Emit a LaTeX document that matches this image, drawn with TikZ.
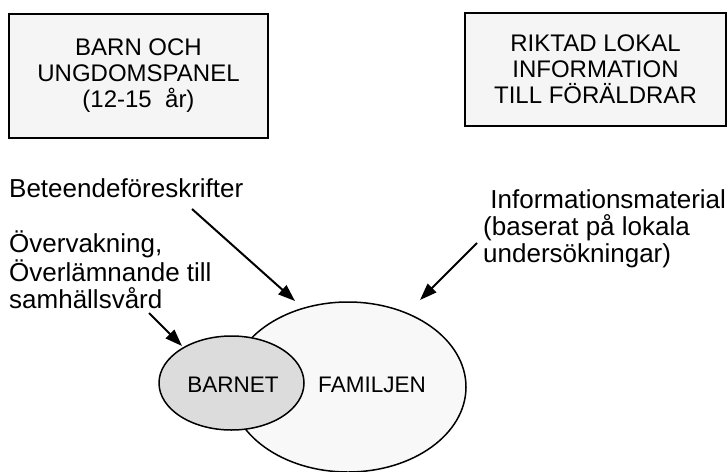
\documentclass[tikz,border=0pt]{standalone}
\usepackage{fontspec}
\setmainfont{Liberation Sans}
\usetikzlibrary{arrows.meta}
\definecolor{boxgray}{HTML}{F5F5F5}
\definecolor{famfill}{HTML}{F8F8F8}
\definecolor{barnfill}{HTML}{DCDCDC}
\begin{document}
\begin{tikzpicture}[x=1pt,y=-1pt,
  box/.style={draw=black, line width=2pt, fill=boxgray, align=center,
    inner sep=0pt, font=\fontsize{24}{26}\selectfont},
  lbl/.style={align=left, anchor=base west, inner sep=0pt,
    font=\fontsize{26}{27}\selectfont},
  arr/.style={line width=2pt, -{Triangle[length=17pt,width=12pt]}}]
\useasboundingbox (0,0) rectangle (727,471);
% boxes
\node[box, minimum width=259pt, minimum height=124pt] (panel) at (138.5,76)
  {BARN OCH\\UNGDOMSPANEL\\(12-15~ år)};
\node[box, minimum width=261pt, minimum height=113pt] (riktad) at (595.5,69.5)
  {RIKTAD LOKAL\\INFORMATION\\TILL FÖRÄLDRAR};
% ellipses
\draw[line width=1.5pt, fill=famfill] (348,387) ellipse [x radius=118, y radius=85];
\draw[line width=1.5pt, fill=barnfill] (231.5,383) ellipse [x radius=72.5, y radius=47];
\node[font=\fontsize{22.5}{24}\selectfont] (barnet) at (233,385) {BARNET};
\node[font=\fontsize{22.5}{24}\selectfont] (familjen) at (372,385) {FAMILJEN};
% labels (base = baseline of last line)
\node[lbl] (beteende) at (9,197.5) {Beteendeföreskrifter};
\node[lbl] (overv) at (9,308) {Övervakning,\\Överlämnande till\\samhällsvård};
\node[lbl] (info) at (483,262) {\ Informationsmaterial\\(baserat på lokala\\undersökningar)};
% arrows
\coordinate (a1s) at (192,209);
\coordinate (a1e) at (295,301);
\coordinate (a2s) at (477,243);
\coordinate (a2e) at (420,300);
\coordinate (a3s) at (149,313);
\coordinate (a3e) at (182,346);
\draw[arr] (a1s) -- (a1e);
\draw[arr] (a2s) -- (a2e);
\draw[arr] (a3s) -- (a3e);
\end{tikzpicture}
\end{document}
